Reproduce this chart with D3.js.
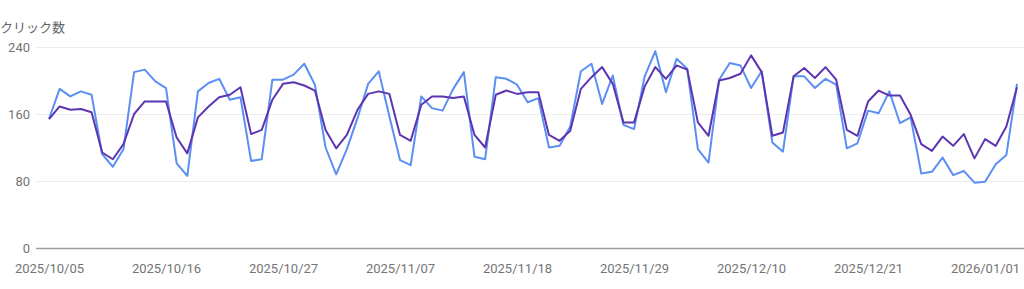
<!DOCTYPE html>
<html>
<head>
<meta charset="utf-8">
<script src="https://cdn.jsdelivr.net/npm/d3@7"></script>
<style>
	body { margin: 0; background: #fff; }
	text { font-family: Roboto, "Noto Sans CJK JP", sans-serif; }
</style>
</head>
<body>
<div id="chart"></div>
<script>
// daily range shown in the chart
const startDay = "2025-10-05";
const endDay = "2026-01-04";

// clicks (blue)
const clicks = [
	154, 190, 181, 187, 183, 112, 97, 118, 210, 213,
	199, 191, 101, 86, 187, 197, 202, 177, 180, 104,
	106, 201, 201, 207, 220, 195, 120, 88, 118, 155,
	196, 211, 157, 105, 99, 181, 167, 164, 190, 210,
	109, 106, 204, 202, 195, 174, 179, 120, 122, 145,
	211, 220, 172, 206, 147, 142, 205, 235, 186, 226,
	214, 118, 102, 201, 221, 218, 191, 211, 126, 115,
	205, 205, 191, 202, 195, 119, 125, 164, 161, 187,
	149, 156, 89, 91, 108, 87, 92, 78, 79, 100,
	111, 196
];

// second series (purple)
const impressions = [
	154, 169, 165, 166, 162, 114, 106, 124, 160, 175,
	175, 175, 132, 113, 156, 169, 180, 183, 192, 136,
	141, 177, 196, 198, 194, 188, 141, 119, 135, 165,
	184, 187, 184, 135, 128, 171, 181, 181, 179, 181,
	135, 120, 183, 188, 184, 186, 186, 135, 128, 140,
	190, 204, 216, 196, 150, 150, 193, 216, 202, 218,
	213, 150, 134, 200, 203, 208, 230, 210, 134, 138,
	205, 215, 203, 216, 201, 141, 134, 175, 188, 182,
	182, 159, 124, 116, 133, 122, 136, 107, 130, 122,
	145, 192
];

const yTicks = [0, 80, 160, 240];
const xTickLabels = ["2025/10/05", "2025/10/16", "2025/10/27", "2025/11/07", "2025/11/18",
	"2025/11/29", "2025/12/10", "2025/12/21", "2026/01/01"];

const width = 1024, height = 289;
const margin = {top: 47, right: 7, bottom: 41, left: 49};

const parse = d3.timeParse("%Y-%m-%d");
const parseTick = d3.timeParse("%Y/%m/%d");
const days = d3.timeDay.range(parse(startDay), d3.timeDay.offset(parse(endDay), 1));

const svg = d3.select("#chart").append("svg")
	.attr("width", width)
	.attr("height", height);

const x = d3.scaleTime()
	.domain([parse(startDay), parse(endDay)])
	.range([margin.left, width - margin.right]);

const y = d3.scaleLinear()
	.domain([0, 240])
	.range([height - margin.bottom, margin.top]);

// title of y axis
svg.append("text")
	.attr("x", 0)
	.attr("y", 32)
	.attr("font-size", "13px")
	.attr("fill", "#5f6368")
	.text("クリック数");

// grid + y labels
const yAxis = svg.append("g")
	.attr("transform", "translate(36,0)")
	.call(d3.axisRight(y).tickValues(yTicks).tickSize(width - 36).tickFormat(d => d));
yAxis.select(".domain").remove();
yAxis.selectAll(".tick line")
	.attr("stroke", d => d === 0 ? "#9e9e9e" : "#ececec")
	.attr("stroke-width", d => d === 0 ? 1.5 : 1);
yAxis.selectAll(".tick text")
	.attr("x", -6)
	.attr("text-anchor", "end")
	.attr("font-size", "13px")
	.attr("fill", "#757575");

// x labels
const xAxis = svg.append("g")
	.attr("transform", "translate(0," + (height - margin.bottom) + ")")
	.call(d3.axisBottom(x).tickValues(xTickLabels.map(parseTick)).tickSize(0).tickFormat(d3.timeFormat("%Y/%m/%d")));
xAxis.select(".domain").remove();
xAxis.selectAll(".tick text")
	.attr("y", 16)
	.attr("dy", "0.71em")
	.attr("font-size", "13px")
	.attr("fill", "#757575");

const line = d3.line()
	.x((d, i) => x(days[i]))
	.y(d => y(d));

svg.append("path")
	.datum(clicks)
	.attr("fill", "none")
	.attr("stroke", "#5b8ff3")
	.attr("stroke-width", 2)
	.attr("stroke-linejoin", "round")
	.attr("d", line);

svg.append("path")
	.datum(impressions)
	.attr("fill", "none")
	.attr("stroke", "#5e35b1")
	.attr("stroke-width", 2)
	.attr("stroke-linejoin", "round")
	.attr("d", line);
</script>
</body>
</html>
